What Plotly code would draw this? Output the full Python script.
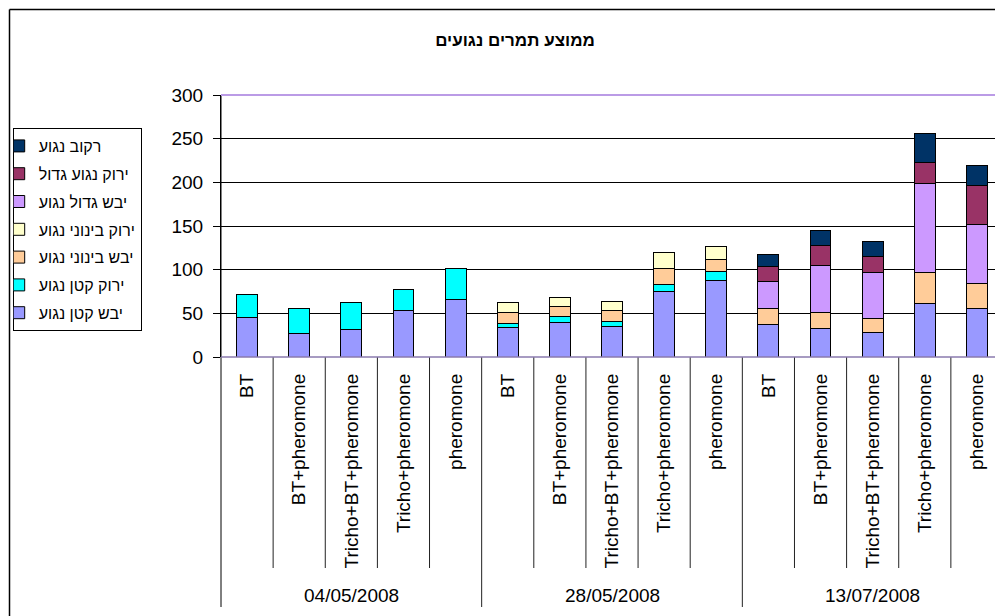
import plotly.graph_objects as go

# ---------------- data ----------------
dates = ["04/05/2008", "28/05/2008", "13/07/2008"]
treatments = ["BT", "BT+pheromone", "Tricho+BT+pheromone", "Tricho+pheromone", "pheromone"]

title_text = "ממוצע תמרים נגועים"

name_dry_small = "יבש קטן נגוע"
name_green_small = "ירוק קטן נגוע"
name_dry_medium = "יבש בינוני נגוע"
name_green_medium = "ירוק בינוני נגוע"
name_dry_large = "יבש גדול נגוע"
name_green_large = "ירוק נגוע גדול"
name_rotten = "רקוב נגוע"

dry_small = [45.1, 26.8, 31.3, 52.7, 66.4, 33.6, 39.7, 34.4, 74.9, 87.5, 37.4, 32.1, 28.3, 61.8, 55.0]
green_small = [27.0, 28.6, 31.0, 24.4, 35.5, 5.3, 6.9, 6.8, 7.6, 10.6, None, None, None, None, None]
dry_medium = [None, None, None, None, None, 11.5, 11.5, 12.6, 19.4, 13.8, 18.4, 18.3, 16.0, 35.2, 29.0]
green_medium = [None, None, None, None, None, 11.9, 9.9, 10.3, 17.6, 14.1, None, None, None, None, None]
dry_large = [None, None, None, None, None, None, None, None, None, None, 30.5, 54.6, 51.9, 101.1, 67.2]
green_large = [None, None, None, None, None, None, None, None, None, None, 17.6, 22.5, 18.8, 24.5, 45.4]
rotten = [None, None, None, None, None, None, None, None, None, None, 13.4, 17.2, 16.7, 33.2, 22.6]

y_ticks = [0, 50, 100, 150, 200, 250, 300]

# ---------------- layout constants (reference pixel coords) ----------------
OFF = 8                      # page body margin
W, H = 1003 - OFF, 616 - OFF
L_REF, T_REF, B_REF = 221, 95, 357   # plot area left, top, bottom in page pixels
L, T, BOT = L_REF - OFF, T_REF - OFF, B_REF - OFF
PW, PH = W - L, BOT - T

def px_x(p):
    return (p - L_REF) / PW

def px_y(p):
    return (B_REF - p) / PH

FONT = "Liberation Sans, Arial, sans-serif"

labels = [t for d in dates for t in treatments]
xpos = list(range(len(labels)))

series = [
    (name_dry_small, dry_small, "#9999FF"),
    (name_green_small, green_small, "#00FFFF"),
    (name_dry_medium, dry_medium, "#FFCC99"),
    (name_green_medium, green_medium, "#FFFFCC"),
    (name_dry_large, dry_large, "#CC99FF"),
    (name_green_large, green_large, "#993366"),
    (name_rotten, rotten, "#003366"),
]

fig = go.Figure()
for k, (nm, vals, col) in enumerate(series):
    fig.add_trace(go.Bar(
        x=xpos, y=vals, name=nm, legendgroup=nm, legendrank=len(series) - k,
        marker=dict(color=col, line=dict(color="black", width=1)),
    ))

shapes = []
n = len(labels)
per = len(treatments)
for i in range(1, n):
    is_group = (i % per == 0)
    shapes.append(dict(type="line", xref="x", yref="paper",
                       x0=i - 0.5, x1=i - 0.5, y0=0, y1=px_y(607 if is_group else 568),
                       line=dict(color="#222222", width=1)))
shapes.append(dict(type="line", xref="paper", yref="paper", x0=0, x1=0,
                   y0=1, y1=px_y(607), line=dict(color="black", width=1)))
shapes.append(dict(type="line", xref="paper", yref="paper", x0=0, x1=1.01,
                   y0=1, y1=1, line=dict(color="#BB9BE6", width=2)))
shapes.append(dict(type="line", xref="paper", yref="paper", x0=0, x1=1.01,
                   y0=0, y1=0, line=dict(color="#8A7AAE", width=1.5)))
shapes.append(dict(type="line", xref="paper", yref="paper", x0=px_x(9.5), x1=px_x(1010),
                   y0=px_y(9.5), y1=px_y(9.5), line=dict(color="black", width=1.5)))
shapes.append(dict(type="line", xref="paper", yref="paper", x0=px_x(9.5), x1=px_x(9.5),
                   y0=px_y(9.5), y1=px_y(625), line=dict(color="black", width=1.5)))

annotations = []
for gi, d in enumerate(dates):
    center = (gi * per + (gi + 1) * per - 1) / 2
    annotations.append(dict(text=d, x=center, xref="x", y=px_y(595), yref="paper",
                            showarrow=False, xanchor="center", yanchor="middle",
                            font=dict(family=FONT, size=19, color="black")))

fig.update_layout(
    width=W, height=H,
    margin=dict(l=L, r=0, t=T, b=H - BOT, pad=0),
    paper_bgcolor="white", plot_bgcolor="white",
    barmode="stack", bargap=0.6,
    title=dict(text="<b>" + title_text + "</b>",
               x=(515 - OFF) / W, xref="container", xanchor="center",
               y=1 - (40 - OFF) / H, yref="container", yanchor="middle",
               font=dict(family=FONT, size=17, color="black")),
    xaxis=dict(range=[-0.5, n - 0.5], tickmode="array", tickvals=xpos, ticktext=labels,
               tickangle=-90, showgrid=False, zeroline=False, showline=False,
               ticks="", ticklabelstandoff=12,
               tickfont=dict(family=FONT, size=19, color="black"), fixedrange=True),
    yaxis=dict(range=[0, 300], tickmode="array", tickvals=y_ticks,
               showgrid=True, gridcolor="black", gridwidth=1, zeroline=False,
               showline=True, linecolor="black", linewidth=1,
               ticks="outside", ticklen=7, tickcolor="black", ticklabelstandoff=6,
               tickfont=dict(family=FONT, size=19, color="black")),
    legend=dict(x=px_x(12.7), y=px_y(128), xanchor="left", yanchor="top",
                xref="paper", yref="paper",
                traceorder="grouped", tracegroupgap=4, indentation=-15,
                bordercolor="black", borderwidth=1, bgcolor="white",
                font=dict(family=FONT, size=16, color="black"),
                itemclick=False, itemdoubleclick=False),
    shapes=shapes, annotations=annotations,
    showlegend=True,
)

fig.write_html("out.html")
